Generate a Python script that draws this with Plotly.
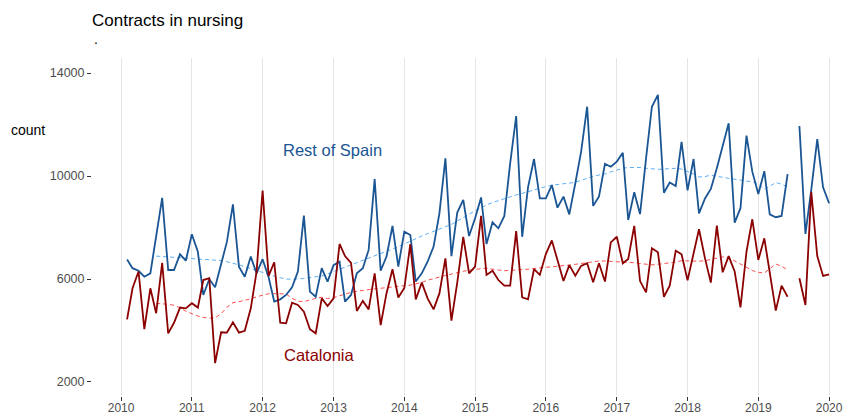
import pandas as pd
import plotly.graph_objects as go

# ---- data (monthly, Feb 2010 .. Jan 2020) ----
start_month = "2010-02-01"
n_months = 120

rest_of_spain = [
    6760, 6420, 6320, 6090, 6220, 7700, 9150, 6350, 6350, 6960,
    6710, 7740, 7060, 5380, 5990, 5680, 6540, 7450, 8900, 6480,
    6090, 6870, 6220, 6770, 6070, 5120, 5210, 5380, 5680, 6290,
    8460, 5510, 5310, 6420, 5900, 6540, 6670, 5120, 5380, 6220,
    6420, 7130, 9880, 6320, 6870, 8060, 6480, 7840, 7710, 5900,
    6220, 6670, 7260, 8550, 10690, 6890, 8580, 9070, 7670, 8360,
    9170, 7360, 8200, 7970, 8450, 10490, 12330, 7640, 9560, 10660,
    9130, 9130, 9650, 8770, 9200, 8510, 9720, 10950, 12690, 8840,
    9200, 10470, 10360, 10560, 10900, 8290, 9370, 8520, 10690, 12690,
    13150, 9350, 9750, 9610, 11330, 9440, 10660, 8550, 9130, 9500,
    10300, 11140, 12050, 8190, 8750, 11570, 10170, 9300, 10190, 8510,
    8400, 8450, 10070, None, 11940, 7750, 9460, 11430, 9560, 8940,
]

catalonia = [
    4430, 5640, 6290, 4050, 5640, 4670, 6630, 3890, 4300, 4890,
    4860, 5060, 4890, 5960, 6030, 2730, 3930, 3920, 4320, 3920,
    3990, 4860, 6290, 9430, 6120, 6650, 4300, 4280, 5080, 4990,
    4730, 4050, 3890, 5250, 4950, 5250, 7360, 6890, 6630, 4760,
    5150, 4820, 6220, 4210, 5440, 6380, 5280, 5650, 7350, 5210,
    5860, 5250, 4820, 5440, 6800, 4380, 5860, 7640, 6220, 6480,
    8450, 6160, 6320, 5960, 5740, 5740, 7860, 5290, 5210, 6380,
    6160, 6970, 7500, 6740, 5920, 6540, 6130, 6510, 6610, 5870,
    6610, 5900, 7420, 7640, 6610, 6780, 8060, 5920, 5480, 7190,
    7040, 5310, 5740, 7100, 6960, 5950, 7040, 7930, 6800, 5860,
    8070, 6260, 6890, 6290, 4900, 7060, 8320, 6740, 7580, 6190,
    4770, 5740, 5310, None, 6030, 4990, 9390, 6890, 6120, 6180,
]

# smoothed trend lines, months 6..113 of the series
rest_trend_core = [
    6890, 6870, 6850, 6830, 6810, 6790, 6780, 6770, 6760, 6750,
    6740, 6710, 6670, 6620, 6550, 6480, 6400, 6320, 6250, 6180,
    6110, 6050, 6000, 5990, 6000, 6020, 6050, 6080, 6120, 6200,
    6290, 6380, 6470, 6570, 6660, 6740, 6830, 6910, 6990, 7070,
    7150, 7250, 7360, 7470, 7580, 7670, 7760, 7860, 7950, 8030,
    8120, 8250, 8400, 8540, 8650, 8760, 8880, 8970, 9050, 9120,
    9190, 9260, 9330, 9400, 9470, 9530, 9590, 9640, 9680, 9700,
    9720, 9760, 9830, 9920, 9990, 10040, 10080, 10160, 10240, 10300,
    10330, 10340, 10330, 10300, 10270, 10260, 10270, 10280, 10300, 10270,
    10180, 10080, 9960, 9980, 10030, 10000, 9950, 9910, 9870, 9830,
    9800, 9770, 9700, 9480, 9600, 9750, 9680, 9580,
]
cat_trend_core = [
    5050, 5040, 5020, 4980, 4880, 4750, 4640, 4560, 4510, 4480,
    4490, 4650, 4900, 5080, 5120, 5160, 5230, 5310, 5370, 5430,
    5430, 5420, 5420, 5250, 5140, 5120, 5190, 5250, 5290, 5240,
    5280, 5350, 5420, 5480, 5520, 5560, 5590, 5620, 5640, 5670,
    5690, 5710, 5740, 5760, 5800, 5870, 5950, 6020, 6090, 6140,
    6190, 6250, 6300, 6340, 6380, 6400, 6410, 6390, 6350, 6320,
    6330, 6340, 6350, 6380, 6410, 6430, 6450, 6470, 6490, 6500,
    6540, 6570, 6600, 6620, 6660, 6700, 6700, 6690, 6670, 6660,
    6640, 6630, 6600, 6560, 6550, 6570, 6600, 6610, 6660, 6710,
    6700, 6680, 6690, 6710, 6760, 6820, 6860, 6830, 6700, 6580,
    6440, 6330, 6260, 6230, 6400, 6580, 6500, 6350,
]
rest_trend = [None] * 5 + rest_trend_core + [None] * 7
cat_trend = [None] * 5 + cat_trend_core + [None] * 7

year_ticks = [str(y) for y in range(2010, 2021)]
y_ticks = [2000, 6000, 10000, 14000]

dates = pd.date_range(start_month, periods=n_months, freq="MS")

FONT = "Liberation Sans, Arial, sans-serif"
BLUE = "#1a5594"
RED = "#8b0000"
BLUE_T = "#5eaef5"
RED_T = "#ff4d4d"

W, H = 843, 414
ML, MR, MT, MB = 92, 5, 58, 18
PW, PH = W - ML - MR, H - MT - MB

fig = go.Figure()
fig.add_trace(go.Scatter(x=dates, y=rest_trend, mode="lines",
                         line=dict(color=BLUE_T, width=1, dash="4px,3px"),
                         connectgaps=False, hoverinfo="skip"))
fig.add_trace(go.Scatter(x=dates, y=cat_trend, mode="lines",
                         line=dict(color=RED_T, width=1, dash="4px,3px"),
                         connectgaps=False, hoverinfo="skip"))
fig.add_trace(go.Scatter(x=dates, y=rest_of_spain, mode="lines", name="Rest of Spain",
                         line=dict(color=BLUE, width=1.8), connectgaps=False))
fig.add_trace(go.Scatter(x=dates, y=catalonia, mode="lines", name="Catalonia",
                         line=dict(color=RED, width=1.8), connectgaps=False))

fig.add_annotation(x="2012-12-29", y=11010, text="Rest of Spain", showarrow=False,
                   xanchor="center", yanchor="middle",
                   font=dict(family=FONT, size=16.5, color=BLUE))
fig.add_annotation(x="2012-10-18", y=3050, text="Catalonia", showarrow=False,
                   xanchor="center", yanchor="middle",
                   font=dict(family=FONT, size=16.5, color=RED))

# y-axis title, horizontal
fig.add_annotation(xref="paper", yref="paper", x=(9 - ML) / PW, y=(H - MB - 130) / PH,
                   xanchor="left", yanchor="middle", text="count", showarrow=False,
                   font=dict(family=FONT, size=14, color="#000000"))
# subtitle
fig.add_annotation(xref="paper", yref="paper", x=0.0, y=(H - MB - 39) / PH,
                   xanchor="left", yanchor="middle", text=".", showarrow=False,
                   font=dict(family=FONT, size=14, color="#000000"))

fig.update_layout(
    width=W, height=H,
    margin=dict(l=ML, r=MR, t=MT, b=MB),
    paper_bgcolor="white", plot_bgcolor="white",
    showlegend=False,
    font=dict(family=FONT),
    title=dict(
        text="Contracts in nursing",
        x=ML / W, xanchor="left", y=1 - 20 / H, yanchor="middle",
        font=dict(family=FONT, size=17, color="#000000"),
    ),
)
fig.update_xaxes(
    range=["2009-08-04", "2020-02-16"],
    tickvals=[f"{y}-01-01" for y in year_ticks], ticktext=year_ticks,
    showgrid=True, gridcolor="#e5e5e5", gridwidth=1.2,
    ticks="outside", ticklen=4, tickcolor="#333333",
    tickfont=dict(family=FONT, size=12, color="#4d4d4d"),
    ticklabelstandoff=-3, ticklabeloverflow="allow",
    showline=False, zeroline=False, automargin=False,
)
fig.update_yaxes(
    range=[1456, 14583],
    tickvals=y_ticks, ticktext=[str(v) for v in y_ticks],
    showgrid=False, zeroline=False, showline=False,
    ticks="outside", ticklen=4, tickcolor="#333333",
    tickfont=dict(family=FONT, size=12.5, color="#4d4d4d"),
    automargin=False,
)

fig.write_html(
    "out.html",
    config={"displayModeBar": False},
    post_script="document.body.style.margin='0';document.body.style.overflow='hidden';",
)
